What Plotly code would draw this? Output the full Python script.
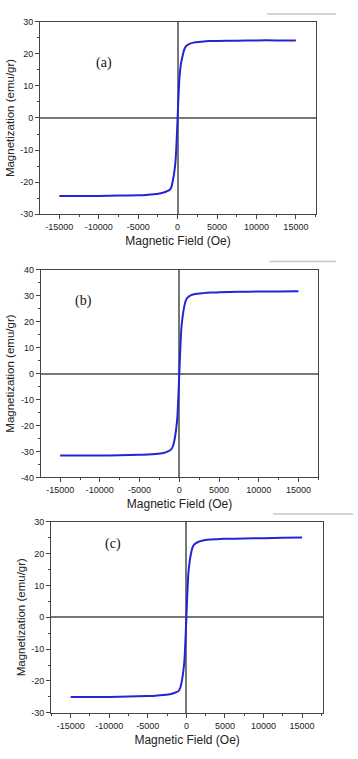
import plotly.graph_objects as go

# ---- data ----
field_oe = [-15000, -12500, -10000, -7500, -5000, -4000, -3000, -2000, -1500, -1000,
            -800, -600, -400, -250, -120, 0, 120, 250, 400, 600, 800, 1000, 1500,
            2000, 3000, 4000, 5000, 7500, 10000, 12500, 15000]

mag_a = [-24.3, -24.3, -24.3, -24.2, -24.1, -24.0, -23.8, -23.4, -23.0, -22.4,
         -21.6, -19.5, -16.5, -13.0, -7.0, 0.0, 7.0, 13.0, 16.5, 19.0, 21.0, 22.2, 23.1,
         23.5, 23.8, 24.0, 24.0, 24.1, 24.2, 24.2, 24.2]

mag_b = [-31.6, -31.6, -31.6, -31.5, -31.3, -31.2, -31.0, -30.6, -30.1, -29.1,
         -28.0, -25.5, -21.5, -17.0, -9.0, 0.0, 9.0, 17.0, 21.5, 25.5, 28.0, 29.2, 30.2,
         30.7, 31.0, 31.2, 31.3, 31.5, 31.6, 31.6, 31.7]

mag_c = [-25.0, -25.0, -25.0, -24.9, -24.7, -24.6, -24.4, -24.1, -23.7, -23.1,
         -22.2, -20.2, -17.0, -13.5, -7.2, 0.0, 7.2, 13.5, 17.0, 20.0, 21.9, 22.8, 23.6,
         24.0, 24.4, 24.5, 24.6, 24.7, 24.8, 24.9, 25.0]

panel_labels = ["(a)", "(b)", "(c)"]
x_title = "Magnetic Field (Oe)"
y_title = "Magnetization (emu/gr)"
x_tickvals = [-15000, -10000, -5000, 0, 5000, 10000, 15000]
x_ticktext = ["-15000", "-10000", "-5000", "0", "5000", "10000", "15000"]
y_tickvals_30 = [-30, -20, -10, 0, 10, 20, 30]
y_ticktext_30 = ["-30", "-20", "-10", "0", "10", "20", "30"]
y_tickvals_40 = [-40, -30, -20, -10, 0, 10, 20, 30, 40]
y_ticktext_40 = ["-40", "-30", "-20", "-10", "0", "10", "20", "30", "40"]

W, H = 358, 759
def px_x(v):
    return v / W
def px_y(v):
    return 1 - v / H

LINE = "#2424d6"
FONT = "Liberation Sans, Arial"
fig = go.Figure()

panels = [
    (mag_a, (40, 316), (17, 212), [-17450, 17550], [-30, 30], y_tickvals_30, y_ticktext_30, (94, 49)),
    (mag_b, (40.7, 318.3), (268.3, 478.7), [-17450, 17500], [-40, 40], y_tickvals_40, y_ticktext_40, (73, 300)),
    (mag_c, (51, 323.3), (523.5, 717.3), [-17550, 17750], [-30, 30], y_tickvals_30, y_ticktext_30, (103, 556)),
]

for i, (mag, (xl, xr), (yt, yb), xr_, yr_, ytv, ytt, (lx, ly)) in enumerate(panels):
    n = "" if i == 0 else str(i + 1)
    fig.add_trace(go.Scatter(x=field_oe, y=mag, mode="lines",
                             line=dict(color=LINE, width=2, shape="spline", smoothing=0.6),
                             xaxis="x" + n, yaxis="y" + n, showlegend=False))
    common = dict(showline=True, linecolor="#444", linewidth=1, mirror=True,
                  ticks="outside", ticklen=4, tickcolor="#444", showgrid=False,
                  zeroline=True, zerolinecolor="#777", zerolinewidth=1.5,
                  tickfont=dict(family=FONT, size=9, color="#222"))
    fig.layout["xaxis" + n] = dict(
        domain=[px_x(xl), px_x(xr)], range=xr_, anchor="y" + n,
        tickvals=x_tickvals, ticktext=x_ticktext,
        minor=dict(tickvals=[-17500, -12500, -7500, -2500, 2500, 7500, 12500, 17500],
                   ticks="outside", ticklen=2, tickcolor="#444"),
        title=dict(text=x_title, font=dict(family=FONT, size=12, color="#222"), standoff=5),
        **common)
    fig.layout["yaxis" + n] = dict(
        domain=[px_y(yb), px_y(yt)], range=yr_, anchor="x" + n,
        tickvals=ytv, ticktext=ytt,
        minor=dict(dtick=5, ticks="outside", ticklen=2, tickcolor="#444"),
        title=dict(text=y_title, font=dict(family=FONT, size=11.5, color="#222"), standoff=3),
        **common)
    fig.add_annotation(text=panel_labels[i], x=px_x(lx), y=px_y(ly), xref="paper", yref="paper",
                       showarrow=False, font=dict(family="Liberation Serif, Times New Roman", size=14, color="#111"))

# faint crop-edge lines at top right of each panel
for (x0, x1, y) in [(267, 336, 9), (269, 336, 260), (273, 353, 515.7)]:
    fig.add_shape(type="line", xref="paper", yref="paper",
                  x0=px_x(x0), x1=px_x(x1), y0=px_y(y), y1=px_y(y),
                  line=dict(color="#c8c8c8", width=1.5))

fig.update_layout(width=W, height=H, margin=dict(l=0, r=0, t=0, b=0),
                  paper_bgcolor="white", plot_bgcolor="white")
fig.write_html("out.html", config={"displayModeBar": False},
               post_script="document.body.style.margin='0px';document.body.style.overflow='hidden';")
